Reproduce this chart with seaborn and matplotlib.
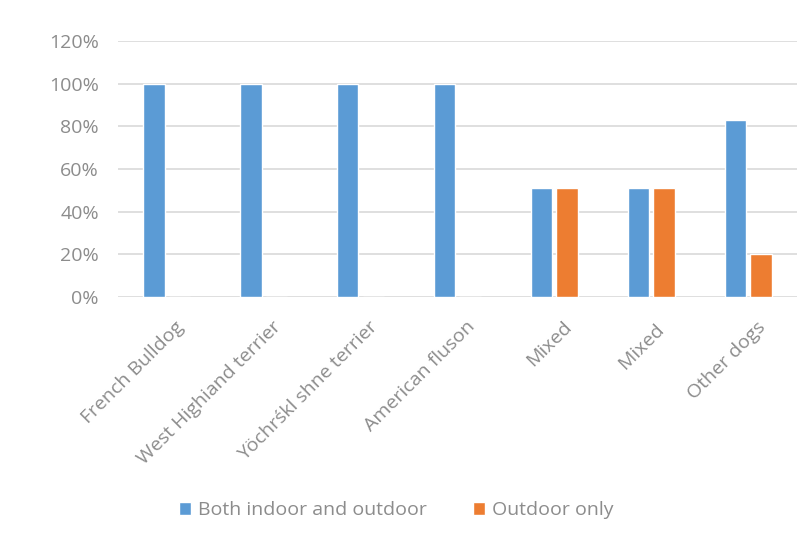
import matplotlib
matplotlib.use("Agg")
import matplotlib.pyplot as plt
import matplotlib.transforms as mtransforms
import seaborn as sns
import pandas as pd
from matplotlib.ticker import PercentFormatter, MultipleLocator

categories = ["French Bulldog", "West Highiand terrier", "Yöchrśkl shne terrier",
              "American fluson", "Mixed", "Mixed ", "Other dogs"]
both_indoor_outdoor = [1.00, 1.00, 1.00, 1.00, 0.51, 0.51, 0.83]
outdoor_only = [0.0, 0.0, 0.0, 0.0, 0.51, 0.51, 0.20]
series_names = ["Both indoor and outdoor", "Outdoor only"]

df = pd.DataFrame({
    "category": categories * 2,
    "value": both_indoor_outdoor + outdoor_only,
    "series": [series_names[0]] * len(categories) + [series_names[1]] * len(categories),
})

sns.set_style("white")
plt.rcParams["font.family"] = ["Open Sans", "DejaVu Sans"]

fig = plt.figure(figsize=(7.99, 5.39), dpi=100)
ax = fig.add_axes([0.148, 0.449, 0.849, 0.475])

sns.barplot(data=df, x="category", y="value", hue="series", order=categories,
            hue_order=series_names, palette=["#5B9BD5", "#ED7D31"],
            width=0.53, gap=0.16, ax=ax, saturation=1)

ax.set_ylim(0, 1.2)
ax.yaxis.set_major_locator(MultipleLocator(0.2))
ax.yaxis.set_major_formatter(PercentFormatter(1.0, decimals=0))
ax.grid(axis="y", color="#D9D9D9", linewidth=1.2)
ax.set_axisbelow(True)
for s in ax.spines.values():
    s.set_visible(False)
ax.set_xlabel("")
ax.set_ylabel("")
ax.tick_params(axis="both", length=0, colors="#8C8C8C", labelsize=14)
ax.tick_params(axis="y", pad=14)
ax.tick_params(axis="x", pad=15)
offset = mtransforms.ScaledTranslation(8 / 100, 0, fig.dpi_scale_trans)
for lbl in ax.get_xticklabels():
    lbl.set_rotation(45)
    lbl.set_ha("right")
    lbl.set_va("top")
    lbl.set_rotation_mode("anchor")
    lbl.set_transform(lbl.get_transform() + offset)
ax.set_xlim(-0.5, len(categories) - 0.5)

handles, labels = ax.get_legend_handles_labels()
ax.legend(handles, labels, loc="upper center", bbox_to_anchor=(0.41, -0.73),
          ncol=2, frameon=False, fontsize=14, handlelength=0.6, handleheight=0.6,
          handletextpad=0.35, columnspacing=2.4, labelcolor="#8C8C8C")

fig.savefig("out.png", dpi=100)
